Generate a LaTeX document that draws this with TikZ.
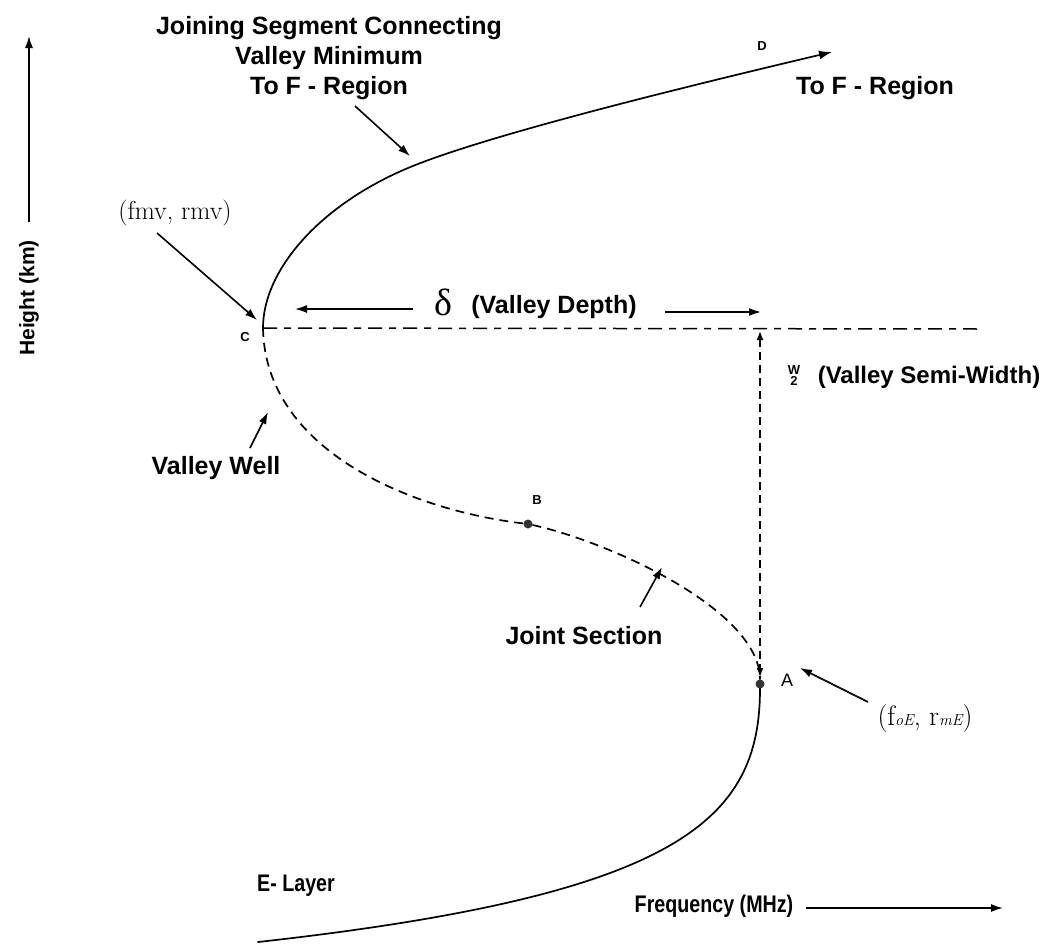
\documentclass[tikz,border=0pt]{standalone}
\usepackage{fontspec}
\usetikzlibrary{arrows.meta}
\newfontfamily\labelsans{Liberation Sans}
\newfontfamily\narrowsans{Liberation Sans}[FakeStretch=0.82]
\newfontfamily\greekserif{Liberation Serif}
\begin{document}
\begin{tikzpicture}[x=1pt,y=-1pt,
  every node/.style={inner sep=0pt,outer sep=0pt},
  txt/.style={font=\labelsans\bfseries\fontsize{25}{30}\selectfont,align=center},
  narrowtxt/.style={font=\narrowsans\bfseries\fontsize{24}{30}\selectfont},
  pointlbl/.style={font=\labelsans\bfseries\fontsize{13}{15}\selectfont},
  serif/.style={font=\rmfamily\fontsize{26}{30}\selectfont},
  curve/.style={line width=1.7pt,line cap=round},
  dashcurve/.style={line width=1.7pt,dash pattern=on 9pt off 6pt},
  guide/.style={line width=1.5pt,dash pattern=on 14pt off 7pt on 7pt off 7pt},
  pointer/.style={line width=1.6pt,-{Latex[length=12pt,width=8pt]}},
  dot/.style={circle,fill=black!80,minimum size=9pt}]
\useasboundingbox (0,0) rectangle (1054,946);

% key points of the profile
\coordinate (C) at (263,328);
\coordinate (P) at (408,168);
\coordinate (Dtip) at (832,52);
\node[dot] (B) at (528,524) {};
\node[dot] (A) at (760,684) {};
\coordinate (Aa) at (760,677);
\coordinate (Etail) at (258,942);
\coordinate (Hend) at (982,329);
\coordinate (Wtop) at (760,331);

% axes
\coordinate (Hbot) at (29,222);
\coordinate (Htop) at (29,36);
\draw[pointer] (Hbot) -- (Htop);
\node[txt,rotate=90,font=\labelsans\bfseries\fontsize{21}{24}\selectfont] (hlab) at (29,298) {Height (km)};
\node[narrowtxt] (flab) at (714,906) {Frequency (MHz)};
\coordinate (Fs) at (806,908);
\coordinate (Fe) at (1003,908);
\draw[pointer] (Fs) -- (Fe);

% F-region branch
\draw[curve,-{Latex[length=13pt,width=9pt]}] (C) .. controls (263,270) and (320,205) .. (P)
   .. controls (478,138.6) and (650,95) .. (Dtip);
\node[pointlbl] (dlab) at (762,46) {D};
\node[txt] (tof) at (875,88) {To F - Region};

% joining segment label
\node[txt] (join) at (329,58) {Joining Segment Connecting\\Valley Minimum\\To F - Region};
\coordinate (j1) at (355,106);
\coordinate (j2) at (410,156);
\draw[pointer] (j1) -- (j2);

% valley minimum label
\node[serif] (fmv) at (175,213) {(fmv, rmv)};
\coordinate (m1) at (157,233);
\coordinate (m2) at (257,320);
\draw[pointer] (m1) -- (m2);
\node[pointlbl] (clab) at (245,337) {C};

% valley depth
\draw[guide] (C) -- (Hend);
\node[font=\greekserif\fontsize{38}{38}\selectfont] (delta) at (443,302) {δ};
\node[txt] (depth) at (554,307) {(Valley Depth)};
\coordinate (d1) at (413,309);
\coordinate (d2) at (295,309);
\coordinate (d3) at (665,312);
\coordinate (d4) at (761,312);
\draw[pointer] (d1) -- (d2);
\draw[pointer] (d3) -- (d4);

% valley semi-width
\draw[line width=1.5pt,dash pattern=on 8pt off 5pt,{Latex[length=9pt,width=7pt]}-{Latex[length=9pt,width=7pt]}] (Wtop) -- (Aa);
\node[font=\labelsans\bfseries\fontsize{13}{11}\selectfont,align=center] (whalf) at (794,376) {W\\2};
\node[txt,font=\labelsans\bfseries\fontsize{24}{28}\selectfont] (semi) at (929,377) {(Valley Semi-Width)};

% valley and joint section (dashed)
\draw[dashcurve] (C) .. controls (265,450) and (410,510) .. (B)
   .. controls (610,542) and (760,610) .. (A);
\node[pointlbl] (blab) at (537,500) {B};
\node[txt] (well) at (216,468) {Valley Well};
\coordinate (w1) at (250,448);
\coordinate (w2) at (268,412);
\draw[pointer] (w1) -- (w2);
\node[txt] (joint) at (584,636) {Joint Section};
\coordinate (js1) at (640,607);
\coordinate (js2) at (662,567);
\draw[pointer] (js1) -- (js2);

% E-layer peak
\node[font=\labelsans\fontsize{18}{20}\selectfont] (alab) at (787,680) {A};
\node[serif,font=\rmfamily\fontsize{28}{30}\selectfont] (foe) at (925,718)
  {(f{\fontsize{16}{16}\selectfont\itshape oE}, r{\fontsize{16}{16}\selectfont\itshape mE})};
\coordinate (e1) at (868,702);
\coordinate (e2) at (800,668);
\draw[pointer] (e1) -- (e2);

% E-layer branch
\draw[curve] (A) .. controls (760,820) and (680,895) .. (Etail);
\node[narrowtxt] (elayer) at (296,886) {E- Layer};
\end{tikzpicture}
\end{document}
